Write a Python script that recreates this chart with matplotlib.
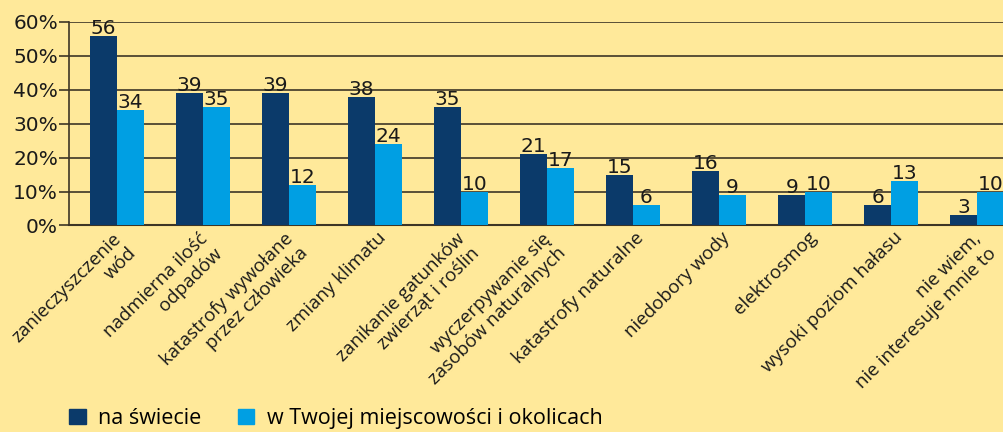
import numpy as np
import matplotlib.pyplot as plt
from matplotlib.patches import Patch
from matplotlib.transforms import ScaledTranslation

categories = ['zanieczyszczenie\nwód', 'nadmierna ilość\nodpadów', 'katastrofy wywołane\nprzez człowieka',
              'zmiany klimatu', 'zanikanie gatunków\nzwierząt i roślin', 'wyczerpywanie się\nzasobów naturalnych',
              'katastrofy naturalne', 'niedobory wody', 'elektrosmog', 'wysoki poziom hałasu',
              'nie wiem,\nnie interesuje mnie to']
world = [56, 39, 39, 38, 35, 21, 15, 16, 9, 6, 3]
local = [34, 35, 12, 24, 10, 17, 6, 9, 10, 13, 10]
series_names = ['na świecie', 'w Twojej miejscowości i okolicach']
yticks = [0, 10, 20, 30, 40, 50, 60]

bg = '#FFE99A'
dark = '#0B3A6A'
light = '#009FE3'
gridc = '#3D3526'

fig = plt.figure(figsize=(10.04, 4.32), dpi=100, facecolor=bg)
W, H = 1004, 432
# axes runs off the right edge like the original
ax = fig.add_axes([69 / W, 1 - 225.5 / H, (1015 - 69) / W, (225.5 - 22) / H])
ax.set_facecolor(bg)

x = np.arange(len(categories))
bw = 0.31
b1 = ax.bar(x - bw / 2, world, bw, color=dark, zorder=3)
b2 = ax.bar(x + bw / 2, local, bw, color=light, zorder=3)

for bars, vals in ((b1, world), (b2, local)):
    for r, v in zip(bars, vals):
        ax.text(r.get_x() + r.get_width() / 2, v - 0.6, str(v), ha='center', va='bottom',
                fontsize=14.5, color='#1a1a1a', family='DejaVu Sans', zorder=4)

ax.set_xlim(-48 / 86, -48 / 86 + 11)
ax.set_ylim(0, 60)
ax.set_yticks(yticks)
ax.set_yticklabels([f'{t}%' for t in yticks], fontsize=14.5, color='#1a1a1a')
ax.yaxis.grid(True, color=gridc, linewidth=1.2, zorder=0)
ax.tick_params(axis='y', length=7, width=1.2, color=gridc, pad=1)
ax.tick_params(axis='x', length=0, pad=0)

ax.set_xticks(x)
ax.set_xticklabels(categories, rotation=45, ha='right', va='top', rotation_mode='anchor',
                   multialignment='right', fontsize=13.5, family='Open Sans', color='#1a1a1a',
                   linespacing=1.2)
# two-line labels sit a bit lower-left than single-line ones
for lab, cat in zip(ax.get_xticklabels(), categories):
    if '\n' in cat:
        shift = ScaledTranslation(-0.05, -0.04, fig.dpi_scale_trans)
    else:
        shift = ScaledTranslation(0.02, -0.03, fig.dpi_scale_trans)
    lab.set_transform(lab.get_transform() + shift)

for s in ['top', 'right']:
    ax.spines[s].set_visible(False)
ax.spines['left'].set_color(gridc)
ax.spines['left'].set_linewidth(1.2)
ax.spines['bottom'].set_color(gridc)
ax.spines['bottom'].set_linewidth(1.5)

handles = [Patch(color=dark), Patch(color=light)]
fig.legend(handles, series_names, loc='lower left', bbox_to_anchor=(50 / W, -0.038), ncol=2,
           frameon=False, handlelength=0.75, handleheight=0.75, handletextpad=0.6, columnspacing=1.7,
           prop={'family': 'Open Sans', 'size': 15.5})

fig.savefig('out.png', dpi=100, facecolor=bg)
